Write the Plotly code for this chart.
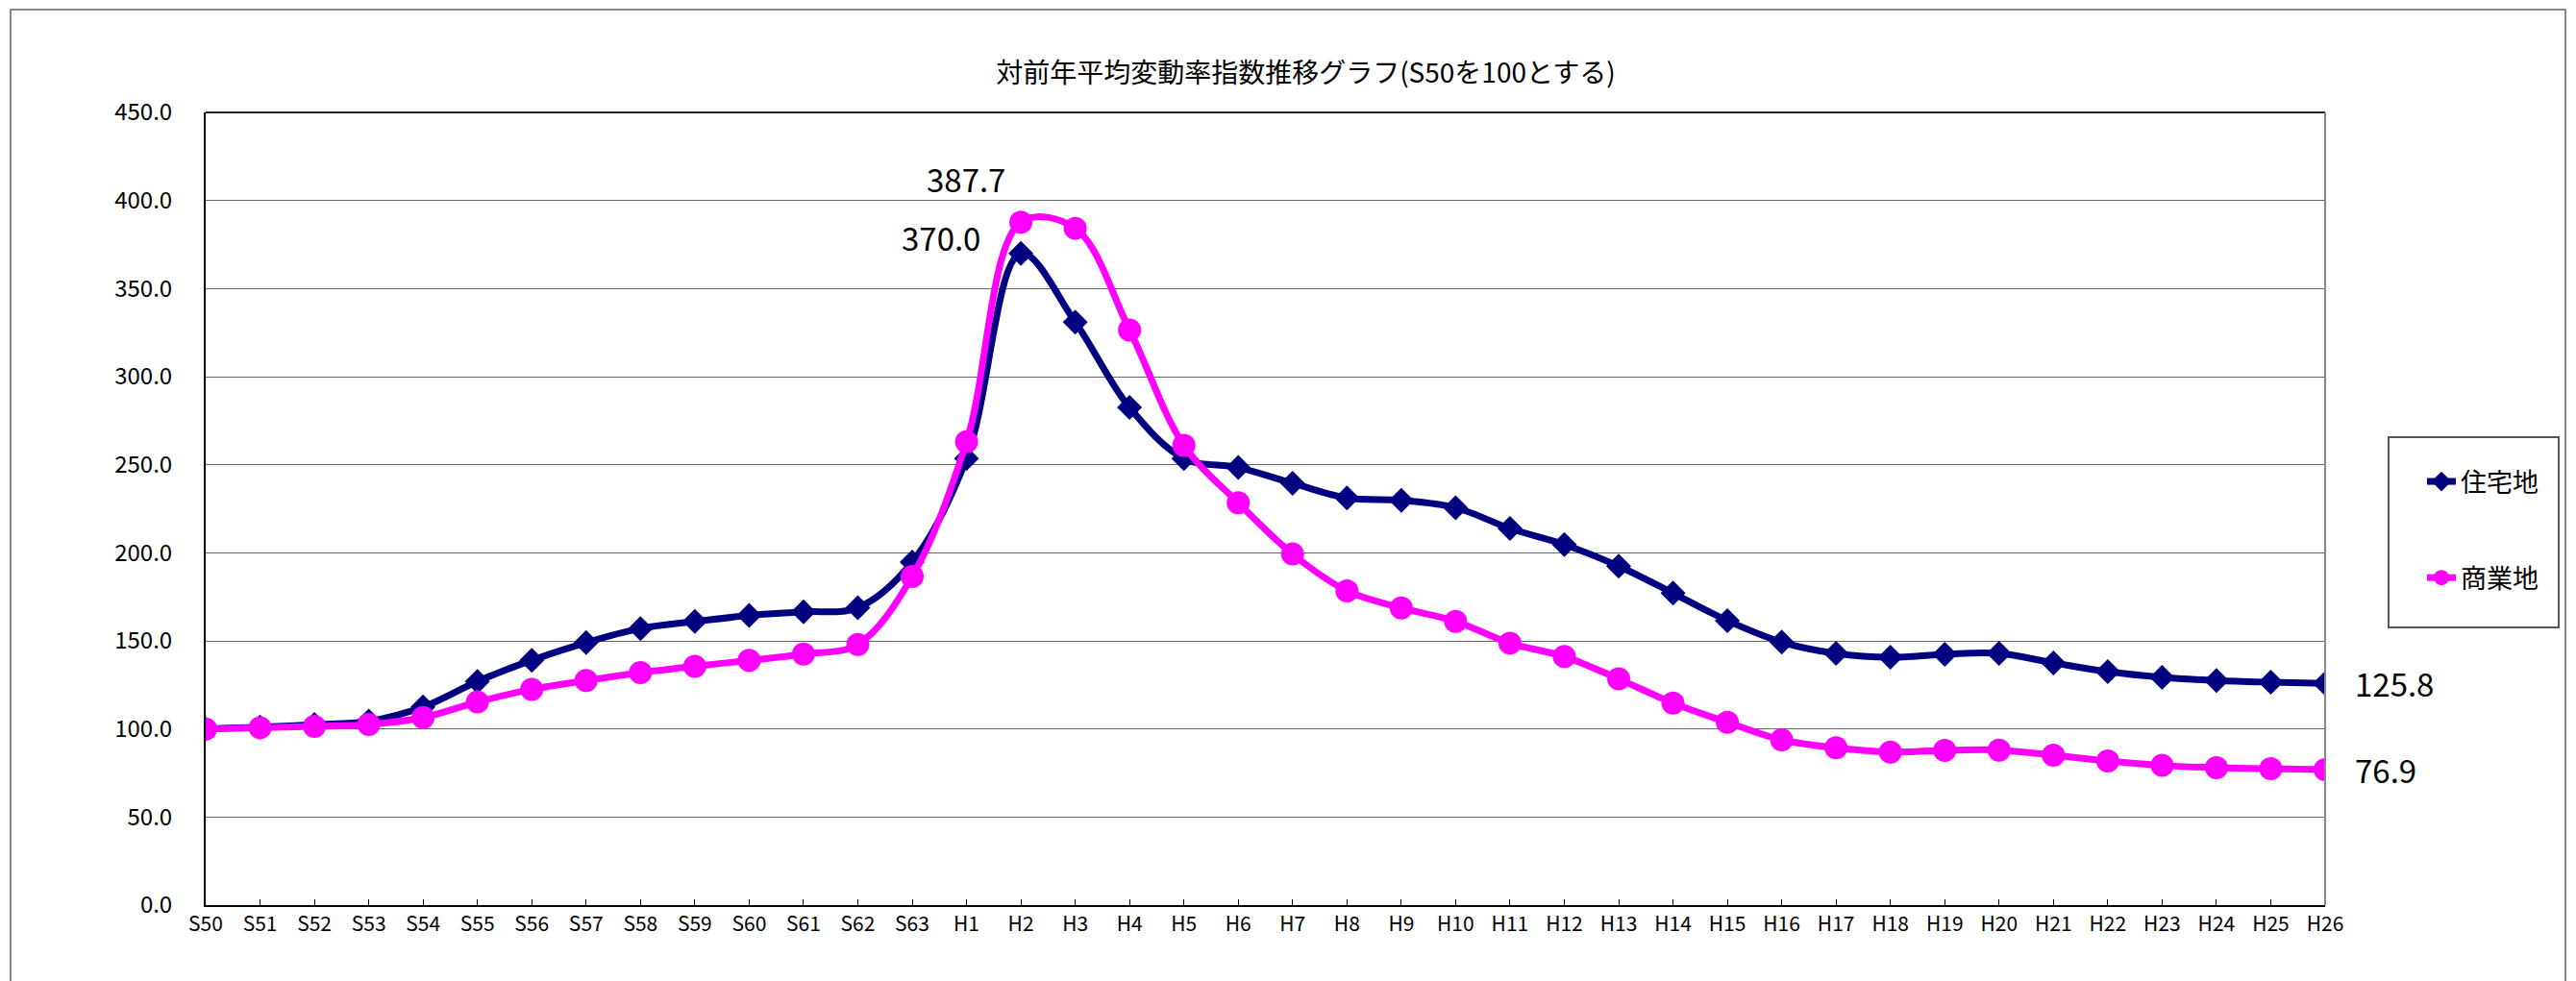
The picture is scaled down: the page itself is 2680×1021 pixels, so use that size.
import plotly.graph_objects as go

categories = ["S50", "S51", "S52", "S53", "S54", "S55", "S56", "S57", "S58", "S59",
              "S60", "S61", "S62", "S63", "H1", "H2", "H3", "H4", "H5", "H6",
              "H7", "H8", "H9", "H10", "H11", "H12", "H13", "H14", "H15", "H16",
              "H17", "H18", "H19", "H20", "H21", "H22", "H23", "H24", "H25", "H26"]

residential = [100.0, 101.0, 102.5, 104.4, 112.5, 127.0, 139.0, 149.0, 157.0, 161.0,
               164.4, 166.5, 168.8, 194.7, 253.5, 370.0, 331.0, 282.5, 253.5, 248.4,
               239.5, 231.1, 229.8, 225.6, 213.8, 204.7, 192.4, 177.1, 161.5, 149.3,
               142.9, 140.7, 142.4, 142.9, 137.5, 132.5, 129.3, 127.5, 126.5, 125.8]

commercial = [100.0, 100.7, 101.5, 102.5, 106.5, 115.3, 122.5, 127.5, 132.0, 135.6,
              138.9, 142.5, 148.0, 186.5, 263.0, 387.7, 384.2, 326.5, 261.0, 228.4,
              199.3, 178.4, 168.7, 161.1, 148.7, 141.1, 128.4, 114.7, 103.8, 93.8,
              89.3, 86.9, 87.8, 88.0, 85.1, 81.8, 79.3, 78.0, 77.5, 76.9]

y_ticks = [0, 50, 100, 150, 200, 250, 300, 350, 400, 450]

FONT = "Noto Sans CJK JP"
NAVY = "#000080"
MAGENTA = "#FF00FF"

fig = go.Figure()
fig.add_trace(go.Scatter(
    x=categories, y=residential, name="住宅地", legendgroup="a",
    mode="lines+markers",
    line=dict(color=NAVY, width=7, shape="spline", smoothing=1.0),
    marker=dict(symbol="diamond", size=20, color=NAVY),
))
fig.add_trace(go.Scatter(
    x=categories, y=commercial, name="商業地", legendgroup="b",
    mode="lines+markers",
    line=dict(color=MAGENTA, width=7, shape="spline", smoothing=1.0),
    marker=dict(symbol="circle", size=24, color=MAGENTA),
))

# data labels
i_peak = residential.index(max(residential))
j_peak = commercial.index(max(commercial))
ann = [
    dict(x=categories[j_peak], y=commercial[j_peak], text=f"{commercial[j_peak]:.1f}",
         xshift=-57, yshift=45),
    dict(x=categories[i_peak], y=residential[i_peak], text=f"{residential[i_peak]:.1f}",
         xshift=-83, yshift=17),
    dict(x=categories[-1], y=residential[-1], text=f"{residential[-1]:.1f}",
         xanchor="left", xshift=29),
    dict(x=categories[-1], y=commercial[-1], text=f"{commercial[-1]:.1f}",
         xanchor="left", xshift=29),
]
annotations = []
for a in ann:
    a.update(showarrow=False, font=dict(family=FONT, size=33, color="black"),
             xref="x", yref="y")
    annotations.append(a)

# pixel helpers for frame shapes (plot area: x 214..2419, y 117..942)
PW, PH = 2205.0, 825.0
def px(x): return (x - 214) / PW
def py(y): return (942 - y) / PH

fig.update_layout(
    width=2680, height=1021,
    margin=dict(l=214, r=261, t=117, b=79),
    paper_bgcolor="white", plot_bgcolor="white",
    font=dict(family=FONT, color="black"),
    title=dict(text="対前年平均変動率指数推移グラフ(S50を100とする)",
               x=0.519, xanchor="center", y=0.925, yanchor="middle",
               xref="paper", yref="container",
               font=dict(family=FONT, size=28, color="black")),
    showlegend=True,
    legend=dict(x=px(2520), xanchor="left", y=py(477), yanchor="top",
                borderwidth=0, bgcolor="rgba(0,0,0,0)",
                font=dict(family=FONT, size=27, color="black"),
                tracegroupgap=62),
    annotations=annotations,
    shapes=[
        dict(type="rect", xref="paper", yref="paper",
             x0=px(11), x1=px(2669), y0=-0.3, y1=py(10),
             line=dict(color="#888", width=2), layer="below"),
        dict(type="rect", xref="paper", yref="paper",
             x0=px(2485), x1=px(2662), y0=py(653), y1=py(455),
             line=dict(color="#555", width=2), layer="below"),
        dict(type="line", xref="paper", yref="paper", x0=0, x1=1, y0=1, y1=1,
             line=dict(color="#222", width=2)),
        dict(type="line", xref="paper", yref="paper", x0=1, x1=1, y0=0, y1=1,
             line=dict(color="#888", width=2)),
    ],
)

fig.update_xaxes(
    type="category", range=[0, len(categories) - 1],
    showgrid=False, showline=True, linecolor="black", linewidth=2,
    mirror=False, ticks="inside", ticklen=6, tickcolor="black",
    tickfont=dict(family=FONT, size=21, color="black"),
)
fig.update_yaxes(
    range=[0, 450], tickvals=y_ticks, ticktext=[f"{v:.1f}" for v in y_ticks],
    showgrid=True, gridcolor="#666", gridwidth=1,
    showline=True, linecolor="black", linewidth=2, mirror=False,
    ticks="", ticklabelstandoff=28,
    tickfont=dict(family=FONT, size=24, color="black"),
    zeroline=False,
)

fig.write_html("out.html", config={"displayModeBar": False},
               post_script="document.body.style.margin='0';document.body.style.overflow='hidden';")
